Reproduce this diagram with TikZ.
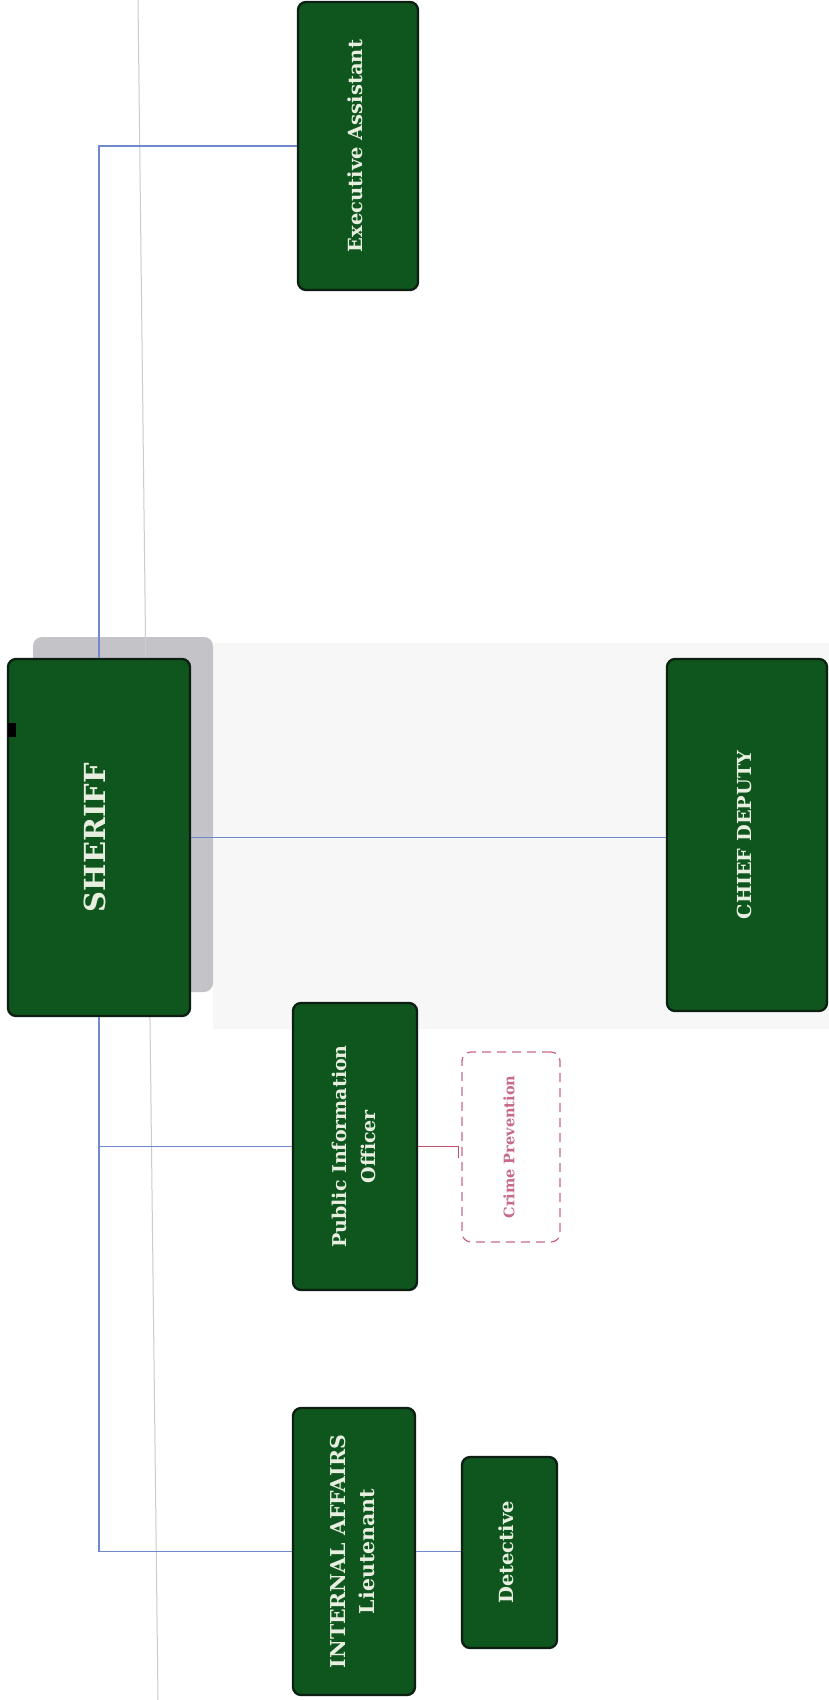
\documentclass[tikz,border=0pt]{standalone}
\usepackage{fontspec}
\setmainfont{DejaVu Serif}
\definecolor{boxgreen}{HTML}{0E561D}
\definecolor{boxedge}{HTML}{0C1F12}
\definecolor{boxtext}{HTML}{E8EFE0}
\definecolor{linkblue}{HTML}{7088CC}
\definecolor{linkred}{HTML}{C2506C}
\definecolor{dashred}{HTML}{C86A86}
\definecolor{shadowgray}{HTML}{C3C3C8}
\definecolor{scanline}{HTML}{CBCBD0}
\definecolor{bandgray}{HTML}{F7F7F7}
\tikzset{
  orgbox/.style={draw=boxedge, line width=2.3pt, fill=boxgreen, rounded corners=8pt,
    text=boxtext, font=\bfseries, inner sep=0pt},
  dashbox/.style={draw=dashred, line width=1.3pt, dash pattern=on 9pt off 6pt,
    rounded corners=9pt, fill=white, text=dashred, font=\bfseries, inner sep=0pt},
  bluelink/.style={draw=linkblue, line width=1.3pt},
  redlink/.style={draw=linkred, line width=1.3pt},
}
\newcommand{\vtext}[1]{\rotatebox{90}{\begin{tabular}{@{}c@{}}#1\end{tabular}}}
\begin{document}
\begin{tikzpicture}[x=1pt, y=-1pt]
\useasboundingbox (0,0) rectangle (829,1700);
\fill[white] (0,0) rectangle (829,1700);
\fill[bandgray] (213,643) rectangle (829,1029);
% shadow of sheriff box
\fill[shadowgray, rounded corners=9pt] (33,637) rectangle (213,992);
% faint scan line
\coordinate (scantop) at (138,0);
\coordinate (scanbot) at (158,1700);
\draw[scanline, line width=1pt] (scantop) -- (scanbot);

% nodes
\node[orgbox, minimum width=120pt, minimum height=288pt] (exec) at (358,146)
  {\fontsize{19.5}{22}\selectfont\vtext{Executive Assistant}};
\node[orgbox, minimum width=182pt, minimum height=357pt] (sheriff) at (99,837.5)
  {\fontsize{29}{32}\selectfont\vtext{SHERIFF}};
\node[orgbox, minimum width=160pt, minimum height=352pt] (chief) at (747,835)
  {\fontsize{19.3}{22}\selectfont\vtext{CHIEF DEPUTY}};
\node[orgbox, minimum width=124pt, minimum height=287pt] (pio) at (355,1146.5)
  {\fontsize{19}{29}\selectfont\vtext{Public Information\\Officer}};
\node[dashbox, minimum width=98pt, minimum height=190pt] (crime) at (511,1147)
  {\fontsize{14.5}{17}\selectfont\vtext{Crime Prevention}};
\node[orgbox, minimum width=122pt, minimum height=287pt] (ia) at (354,1551.5)
  {\fontsize{20.5}{29}\selectfont\vtext{INTERNAL AFFAIRS\\Lieutenant}};
\node[orgbox, minimum width=95pt, minimum height=191pt] (det) at (509.5,1552.5)
  {\fontsize{19.5}{22}\selectfont\vtext{Detective}};

% small black tab on sheriff box
\fill[black] (8,723) rectangle (16,737);

% connectors
\draw[bluelink] (sheriff.north) |- (exec.west);
\draw[bluelink] (sheriff.east) -- (sheriff.east -| chief.west);
\draw[bluelink] (sheriff.south) |- (pio.west);
\draw[bluelink] (sheriff.south) |- (ia.west);
\draw[bluelink] (ia.east) -- (ia.east -| det.west);
\draw[redlink] (pio.east) -| ([xshift=-3pt,yshift=-11pt]crime.west);
\end{tikzpicture}
\end{document}
